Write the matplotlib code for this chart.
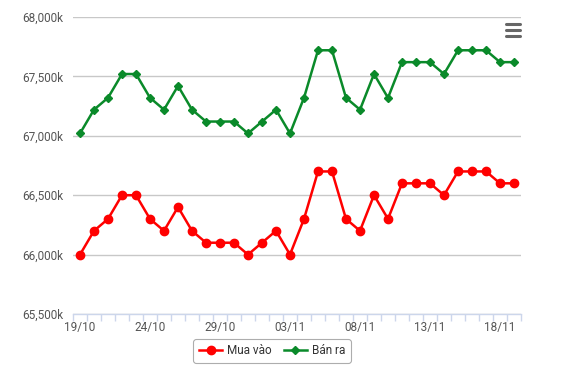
import matplotlib
matplotlib.use("Agg")
import matplotlib.pyplot as plt
from matplotlib.lines import Line2D
from matplotlib.ticker import FuncFormatter

dates = ["19/10","20/10","21/10","22/10","23/10","24/10","25/10","26/10","27/10","28/10",
         "29/10","30/10","31/10","01/11","02/11","03/11","04/11","05/11","06/11","07/11",
         "08/11","09/11","10/11","11/11","12/11","13/11","14/11","15/11","16/11","17/11",
         "18/11","19/11"]
mua_vao = [66000,66200,66300,66500,66500,66300,66200,66400,66200,66100,
           66100,66100,66000,66100,66200,66000,66300,66700,66700,66300,
           66200,66500,66300,66600,66600,66600,66500,66700,66700,66700,
           66600,66600]
ban_ra = [67020,67220,67320,67520,67520,67320,67220,67420,67220,67120,
          67120,67120,67020,67120,67220,67020,67320,67720,67720,67320,
          67220,67520,67320,67620,67620,67620,67520,67720,67720,67720,
          67620,67620]
y_ticks = [65500,66000,66500,67000,67500,68000]

plt.rcParams['font.family'] = ['Roboto', 'DejaVu Sans']
W, H = 565, 375
fig = plt.figure(figsize=(W/100, H/100), dpi=100)
ax = fig.add_axes([73/W, (H-314)/H, (521-73)/W, (314-17)/H])

x = list(range(len(dates)))
ax.plot(x, mua_vao, color='#ff0000', lw=1.8, marker='o', ms=6, label='Mua vào', zorder=3, clip_on=False)
ax.plot(x, ban_ra, color='#0a8a2a', lw=1.8, marker='D', ms=4.3, label='Bán ra', zorder=3, clip_on=False)

ax.set_xlim(-0.5, len(dates)-0.5)
ax.set_ylim(65500, 68000)
ax.set_yticks(y_ticks)
ax.yaxis.set_major_formatter(FuncFormatter(lambda v, p: f"{int(v):,}k"))
ax.grid(axis='y', color='#c8c8c8', lw=1)
ax.set_axisbelow(True)
for s in ['top','right','left']:
    ax.spines[s].set_visible(False)
ax.spines['bottom'].set_color('#ccd6eb')
ax.spines['bottom'].set_linewidth(1)

ax.set_xticks(x[::5])
ax.set_xticklabels(dates[::5])
ax.set_xticks([i-0.5 for i in range(len(dates)+1)], minor=True)
ax.tick_params(axis='x', which='major', length=0, pad=5, labelsize=8.5, colors='#555555')
ax.tick_params(axis='x', which='minor', length=5, color='#ccd6eb', width=1)
ax.tick_params(axis='y', length=0, pad=7, labelsize=8.5, colors='#555555')

leg = ax.legend(loc='center', bbox_to_anchor=(272/W, (H-351)/H), bbox_transform=fig.transFigure,
                ncol=2, frameon=True, fontsize=8.5, handlelength=2.0, columnspacing=1.0,
                handletextpad=0.4, borderpad=0.45, fancybox=True)
leg.get_frame().set_edgecolor('#999999')
leg.get_frame().set_linewidth(0.8)
for t in leg.get_texts():
    t.set_color('#333333')

# menu icon
for yy in [24, 30, 36]:
    fig.add_artist(Line2D([506/W, 520/W], [(H-yy)/H, (H-yy)/H], color='#666666', lw=2.2,
                          solid_capstyle='round'))

fig.savefig('out.png', dpi=100)
